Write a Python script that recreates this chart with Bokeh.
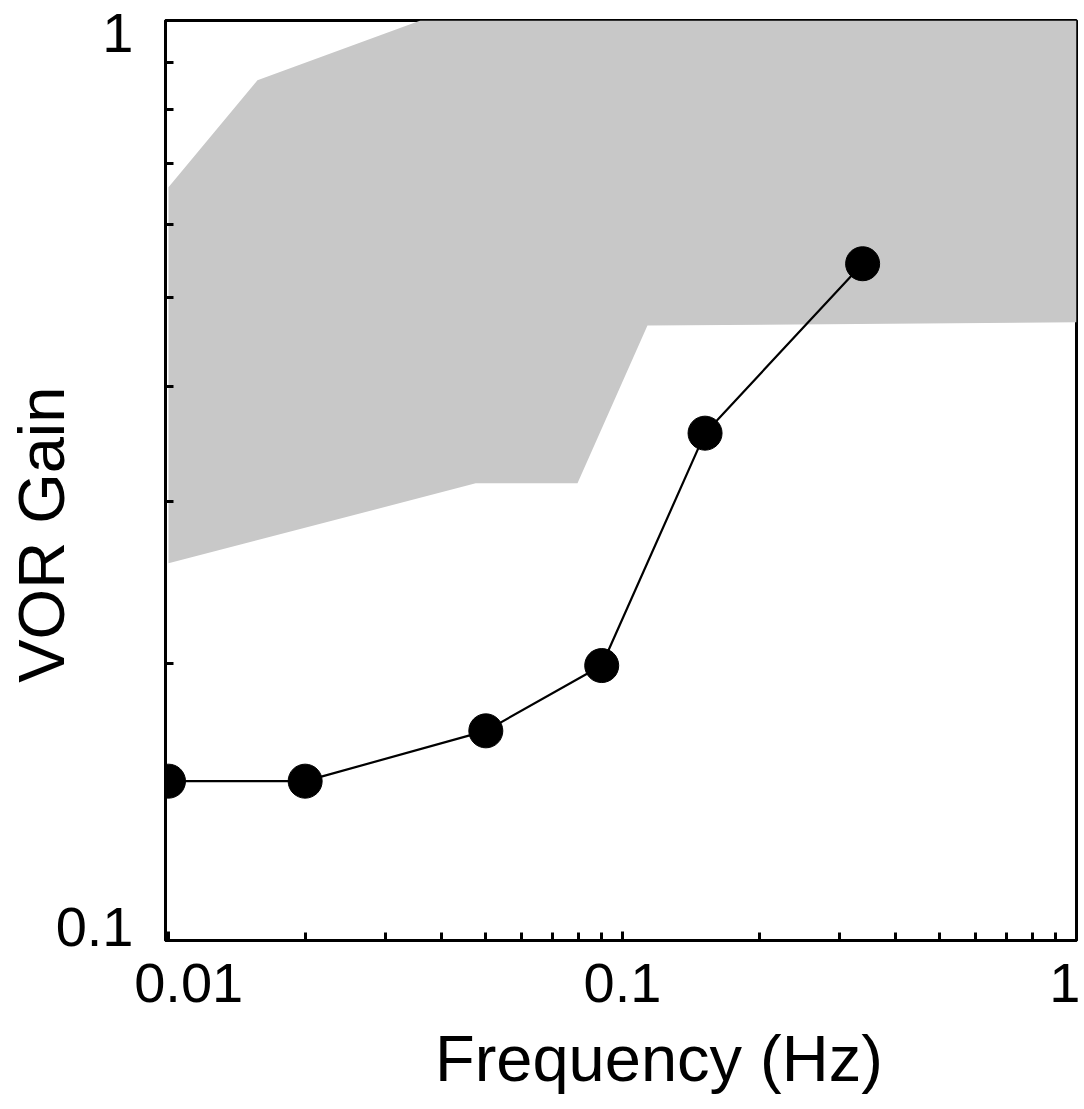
from bokeh.plotting import figure
from bokeh.models import Range1d, FixedTicker, CustomJSTickFormatter, LogAxis, LogScale
from bokeh.embed import file_html
from bokeh.resources import INLINE

# data
freq = [0.01, 0.02, 0.05, 0.09, 0.152, 0.338]
gain = [0.149, 0.149, 0.169, 0.199, 0.356, 0.544]

# normal range (shaded band)
band_x = [0.01, 0.0157, 0.0359, 1.0, 1.0, 0.1135, 0.0796, 0.0475, 0.01]
band_y = [0.659, 0.861, 1.0, 1.0, 0.470, 0.466, 0.314, 0.314, 0.257]

x_major = [0.01, 0.1, 1]
x_minor = [0.02, 0.03, 0.04, 0.05, 0.06, 0.07, 0.08, 0.09,
           0.2, 0.3, 0.4, 0.5, 0.6, 0.7, 0.8, 0.9]
y_major = [0.1, 1]
y_minor = [0.2, 0.3, 0.4, 0.5, 0.6, 0.7, 0.8, 0.9]

FONT = "Liberation Sans"

p = figure(width=1080, height=1105, x_axis_type="log", y_axis_type="log",
           x_range=Range1d(0.00985, 1.0), y_range=Range1d(0.1, 1.0),
           output_backend="svg", toolbar_location=None,
           min_border_left=165, min_border_right=4, min_border_top=20,
           min_border_bottom=165)
p.background_fill_color = "white"
p.border_fill_color = "white"
p.outline_line_color = "black"
p.outline_line_width = 3
p.xgrid.visible = False
p.ygrid.visible = False

p.patch(band_x, band_y, fill_color="#c8c8c8", line_color=None)
p.line(freq, gain, line_color="black", line_width=2.2)
p.scatter(freq, gain, size=34, fill_color="black", line_color="black")

p.xaxis.ticker = FixedTicker(ticks=x_major, minor_ticks=x_minor)
p.yaxis.ticker = FixedTicker(ticks=y_major, minor_ticks=y_minor)
p.xaxis.formatter = CustomJSTickFormatter(
    code="return tick < 0.05 ? '\\u2007\\u2006' + tick.toString() : tick.toString();")
p.yaxis.formatter = CustomJSTickFormatter(code="return '';")
for ax in (p.xaxis, p.yaxis):
    ax.axis_line_width = 3
    ax.axis_line_color = "black"
    ax.major_tick_in = 9
    ax.major_tick_out = 0
    ax.minor_tick_in = 8
    ax.minor_tick_out = 0
    ax.major_tick_line_width = 3
    ax.minor_tick_line_width = 3
    ax.major_label_text_font = FONT
    ax.major_label_text_font_size = "56px"
    ax.major_label_text_color = "black"
    ax.axis_label_text_font = FONT
    ax.axis_label_text_font_size = "65px"
    ax.axis_label_text_font_style = "normal"
    ax.axis_label_text_color = "black"
p.xaxis.major_label_standoff = 10
p.yaxis.major_label_standoff = 0
p.xaxis.axis_label = "\u2003\u2006Frequency (Hz)"
p.xaxis.axis_label_standoff = 5

# label axis for the gain values (slightly offset placement, as in the original)
p.extra_y_ranges = {"ylab": Range1d(0.09666, 1.0340)}
p.extra_y_scales = {"ylab": LogScale()}
ylab = LogAxis(y_range_name="ylab",
               ticker=FixedTicker(ticks=y_major, minor_ticks=[]),
               formatter=CustomJSTickFormatter(code="return tick.toString();"))
ylab.axis_line_color = None
ylab.major_tick_line_color = None
ylab.minor_tick_line_color = None
ylab.major_tick_out = 0
ylab.major_tick_in = 0
ylab.minor_tick_out = 0
ylab.minor_tick_in = 0
ylab.major_label_standoff = 32
ylab.major_label_text_font = FONT
ylab.major_label_text_font_size = "56px"
ylab.major_label_text_color = "black"
ylab.axis_label = "VOR Gain\u2003\u2002\u2006"
ylab.axis_label_text_font = FONT
ylab.axis_label_text_font_size = "65px"
ylab.axis_label_text_font_style = "normal"
ylab.axis_label_text_color = "black"
ylab.axis_label_standoff = -25
p.add_layout(ylab, "left")

open("out.html", "w").write(file_html(p, INLINE))
